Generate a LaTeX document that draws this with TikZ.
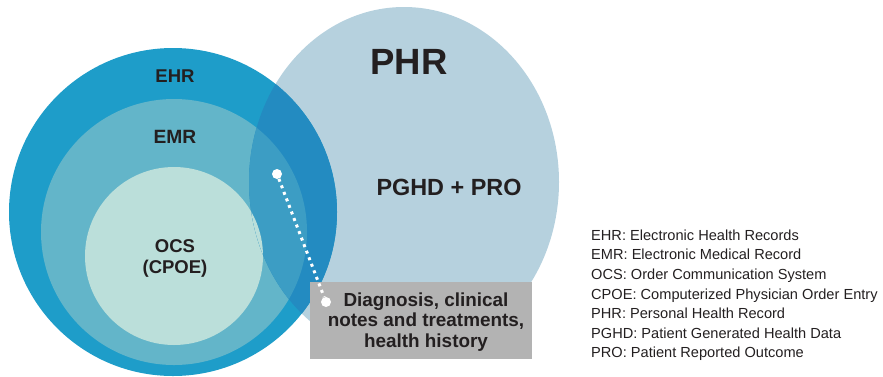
\documentclass[tikz,border=0pt]{standalone}
\usepackage{fontspec}
\setmainfont{Liberation Sans}
\usetikzlibrary{positioning}
\definecolor{fillEHR}{HTML}{1E9DC9}
\definecolor{fillEMR}{HTML}{63B5C9}
\definecolor{fillOCS}{HTML}{BBDFDA}
\definecolor{fillPHR}{HTML}{B6D1DE}
\definecolor{fillEHRPHR}{HTML}{238BC1}
\definecolor{fillEMRPHR}{HTML}{3C9DC4}
\definecolor{fillNote}{HTML}{B3B3B3}
\definecolor{textDark}{HTML}{231F20}

\begin{document}
\begin{tikzpicture}[
    x=1pt, y=-1pt,
    label/.style={text=textDark, font=\bfseries\fontsize{18.5}{21}\selectfont, align=center, inner sep=0pt},
    dot/.style={circle, fill=white, minimum size=10pt, inner sep=0pt},
    dotline/.style={white, line width=3pt, dash pattern=on 3pt off 4pt}
]
    \useasboundingbox (0,0) rectangle (883,376);

    % ==========================================
    % 1. CIRCLES
    % ==========================================

    \fill[fillPHR] (404,182) ellipse [x radius=155pt, y radius=175pt];
    \fill[fillEHR] (173,212) circle [radius=164pt];
    \fill[fillEMR] (174,232) circle [radius=133pt];
    \fill[fillOCS] (174,256) circle [radius=89pt];

    % overlap with PHR
    \begin{scope}
        \clip (404,182) ellipse [x radius=155pt, y radius=175pt];
        \fill[fillEHRPHR] (173,212) circle [radius=164pt];
        \fill[fillEMRPHR] (174,232) circle [radius=133pt];
        \fill[fillOCS] (174,256) circle [radius=89pt];
    \end{scope}

    % ==========================================
    % 2. LABELS
    % ==========================================

    \node[label] (ehr) at (175,76) {EHR};
    \node[label, font=\bfseries\fontsize{19.2}{21}\selectfont] (emr) at (175,137) {EMR};
    \node[label] (ocs) at (175,258.5) {OCS\\(CPOE)};
    \node[label, font=\bfseries\fontsize{36.5}{40}\selectfont] (phr) at (409,62) {PHR};
    \node[label, font=\bfseries\fontsize{23.4}{26}\selectfont] (pghd) at (449,187) {PGHD + PRO};

    % ==========================================
    % 3. NOTE BOX AND POINTER
    % ==========================================

    \node[fill=fillNote, minimum width=222pt, minimum height=77pt, inner sep=0pt] (notebox) at (421,320.5) {};
    \node[label, font=\bfseries\fontsize{18.9}{20.5}\selectfont] (notes) at (426,322)
        {Diagnosis, clinical\\notes and treatments,\\health history};

    \node[dot] (dotTop) at (277,174) {};
    \node[dot] (dotBox) at (326,302) {};
    \draw[dotline] (dotTop) -- (dotBox);

    % ==========================================
    % 4. ABBREVIATIONS
    % ==========================================

    \node[anchor=north west, align=left, inner sep=0pt, text=textDark,
          font=\fontsize{14.6}{19.6}\selectfont] (legend) at (591,229.5)
        {EHR: Electronic Health Records\\
         EMR: Electronic Medical Record\\
         OCS: Order Communication System\\
         CPOE: Computerized Physician Order Entry\\
         PHR: Personal Health Record\\
         PGHD: Patient Generated Health Data\\
         PRO: Patient Reported Outcome};

\end{tikzpicture}
\end{document}
